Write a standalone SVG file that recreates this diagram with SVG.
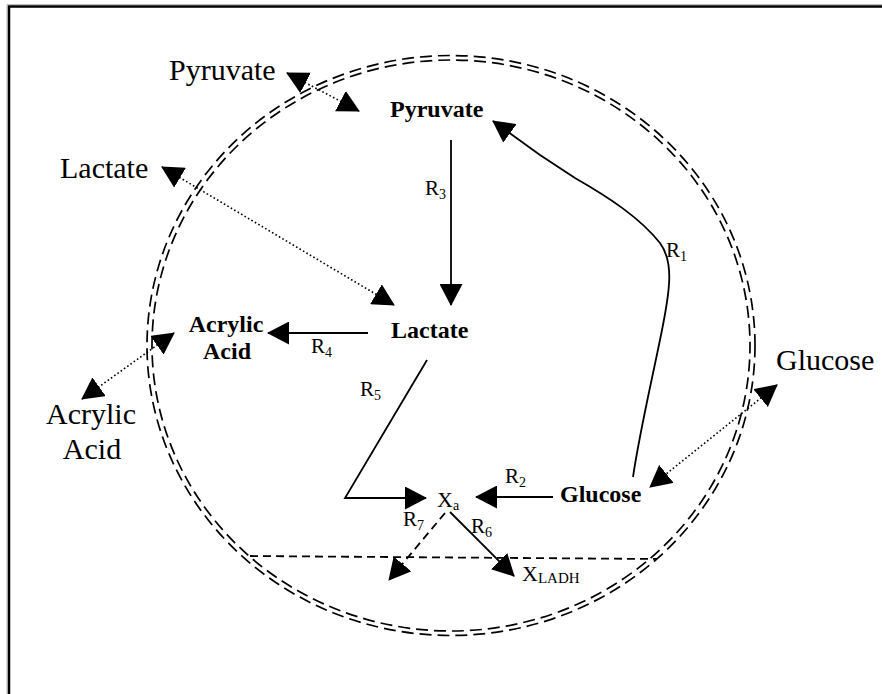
<svg xmlns="http://www.w3.org/2000/svg" width="882" height="694" viewBox="0 0 882 694">
<style>
.out{font-family:"Liberation Serif","Times New Roman",serif;font-size:30px;fill:#000}
.in{font-family:"Liberation Serif","Times New Roman",serif;font-size:24px;font-weight:bold;fill:#000}
.lbl{font-family:"Liberation Serif","Times New Roman",serif;font-size:21px;fill:#000}
.sub{font-size:14px}
.solid{fill:none;stroke:#000;stroke-width:1.8}
.dash{fill:none;stroke:#000;stroke-width:1.8;stroke-dasharray:8,5}
.dot{fill:none;stroke:#000;stroke-width:1.6;stroke-dasharray:1.6,2.4}
.mem{fill:none;stroke:#000;stroke-width:1.7;stroke-dasharray:12,6}
</style>
<defs>
<marker id="ah" markerUnits="userSpaceOnUse" markerWidth="22" markerHeight="23" viewBox="0 0 22 23" refX="21" refY="11.5" orient="auto-start-reverse">
<path d="M0,0 L22,11.5 L0,23 z" fill="#000"/>
</marker>
</defs>
<rect width="882" height="694" fill="#fff"/>
<g id="frame">
<path d="M7,694 V4.5 H882" fill="none" stroke="#bbb" stroke-width="1"/>
<path d="M9,694 V6.5 H882" fill="none" stroke="#000" stroke-width="2.5"/>
</g>
<g id="cell">
<ellipse cx="451" cy="345.5" rx="304" ry="290" class="mem"/>
<ellipse cx="451" cy="345.5" rx="299" ry="285.5" class="mem" style="stroke-dashoffset:4"/>
<line x1="250" y1="556" x2="657" y2="559" class="dash"/>
</g>
<g id="connectors">
<line x1="451" y1="140" x2="451" y2="305" class="solid" marker-end="url(#ah)"/>
<line x1="368" y1="333" x2="268" y2="333" class="solid" marker-end="url(#ah)"/>
<polyline points="427,360 345,498 426,498" class="solid" marker-end="url(#ah)"/>
<line x1="553" y1="497" x2="476" y2="497" class="solid" marker-end="url(#ah)"/>
<line x1="450" y1="512" x2="514" y2="576" class="solid" marker-end="url(#ah)"/>
<line x1="445" y1="513" x2="389" y2="580" class="dash" marker-end="url(#ah)"/>
<path d="M633,477 C640,430 652,380 662,330 C670,290 674,262 660,243 C640,218 610,198 575,178 L540,155 L493,121" class="solid" marker-end="url(#ah)"/>
<line x1="287" y1="73" x2="359" y2="111" class="dot" marker-start="url(#ah)" marker-end="url(#ah)"/>
<line x1="162" y1="167" x2="394" y2="305" class="dot" marker-start="url(#ah)" marker-end="url(#ah)"/>
<line x1="174" y1="333" x2="82" y2="399" class="dot" marker-start="url(#ah)" marker-end="url(#ah)"/>
<line x1="777" y1="385" x2="650" y2="487" class="dot" marker-start="url(#ah)" marker-end="url(#ah)"/>
</g>
<g id="pyruvate-out"><text class="out" x="169" y="80">Pyruvate</text></g>
<g id="lactate-out"><text class="out" x="60" y="178">Lactate</text></g>
<g id="glucose-out"><text class="out" x="776" y="370">Glucose</text></g>
<g id="acrylic-out"><text class="out" x="91" y="424" text-anchor="middle">Acrylic</text><text class="out" x="92" y="459" text-anchor="middle">Acid</text></g>
<g id="pyruvate-in"><text class="in" x="390" y="117">Pyruvate</text></g>
<g id="lactate-in"><text class="in" x="391" y="338">Lactate</text></g>
<g id="glucose-in"><text class="in" x="560" y="502">Glucose</text></g>
<g id="acrylic-in"><text class="in" x="226" y="332" text-anchor="middle">Acrylic</text><text class="in" x="227" y="359" text-anchor="middle">Acid</text></g>
<g id="xa"><text class="lbl" x="437" y="507" style="font-size:22px">X<tspan class="sub" dy="3">a</tspan></text></g>
<g id="xladh"><text class="lbl" x="522" y="581" style="font-size:22px">X<tspan style="font-size:15px" dy="2">LADH</tspan></text></g>
<g id="labels">
<text class="lbl" x="425" y="195">R<tspan class="sub" dy="4">3</tspan></text>
<text class="lbl" x="666" y="257">R<tspan class="sub" dy="4">1</tspan></text>
<text class="lbl" x="311" y="353">R<tspan class="sub" dy="4">4</tspan></text>
<text class="lbl" x="360" y="396">R<tspan class="sub" dy="4">5</tspan></text>
<text class="lbl" x="505" y="483">R<tspan class="sub" dy="4">2</tspan></text>
<text class="lbl" x="403" y="526">R<tspan class="sub" dy="4">7</tspan></text>
<text class="lbl" x="471" y="533">R<tspan class="sub" dy="4">6</tspan></text>
</g>
</svg>
